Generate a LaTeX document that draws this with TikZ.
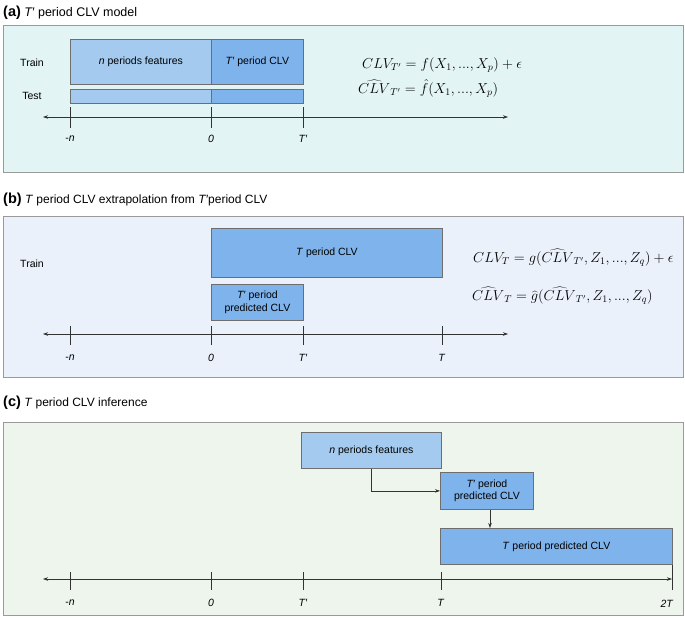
\documentclass[tikz,border=0pt]{standalone}
\usepackage{fontspec}
\setmainfont{Liberation Sans}
\usetikzlibrary{arrows.meta,calc}
\definecolor{bga}{HTML}{E3F4F5}
\definecolor{bgb}{HTML}{EBF1FA}
\definecolor{bgc}{HTML}{EEF5EC}
\definecolor{lblue}{HTML}{A4CBEF}
\definecolor{dblue}{HTML}{7FB3EC}
\definecolor{edge}{HTML}{6E6E6E}
\definecolor{pedge}{HTML}{9A9A9A}
\begin{document}
\begin{tikzpicture}[x=1pt,y=-1pt,
  panel/.style={draw=pedge,line width=0.8pt},
  bx/.style={draw=edge,line width=0.8pt,inner sep=0pt,anchor=north west,align=center,font=\fontsize{10.5}{12.5}\selectfont},
  lab/.style={inner sep=0pt,font=\fontsize{10.5}{12.5}\selectfont},
  ttl/.style={inner sep=0pt,anchor=west,font=\fontsize{12}{14}\selectfont},
  tick/.style={line width=0.6pt,draw=black!80},
  axis/.style={line width=0.6pt,draw=black!80,{Stealth[length=5pt,width=3.5pt]}-{Stealth[length=5pt,width=3.5pt]}},
  arr/.style={line width=0.6pt,draw=black!80,-{Stealth[length=5pt,width=3.5pt]}},
  eq/.style={inner sep=0pt,anchor=base west,font=\fontsize{13.7}{15}\selectfont}]
\useasboundingbox (0,0) rectangle (685,618);
% ---------------- panel (a)
\node[ttl] (ta) at (3,13) {{\fontsize{14.5}{16}\selectfont\textbf{(a)}} {\fontsize{12.5}{14}\selectfont\textit{T′} period CLV model}};
\draw[panel,fill=bga] (3,25) rectangle (683,172);
\node[bx,fill=lblue,minimum width=141pt,minimum height=45pt] (anf) at (70,39) {\textit{n} periods features};
\node[bx,fill=dblue,minimum width=92pt,minimum height=45pt] (aclv) at (211,39) {\textit{T′} period CLV};
\node[bx,fill=lblue,minimum width=141pt,minimum height=14pt] (atl) at (70,89) {};
\node[bx,fill=dblue,minimum width=92pt,minimum height=14pt] (atr) at (211,89) {};
\node[lab] (atrain) at (32,63) {Train};
\node[lab] (atest) at (32,96) {Test};
\coordinate (aL) at (43,117);
\coordinate (aR) at (508,117);
\draw[axis] (aL) -- (aR);
\foreach \x/\n/\t in {70/am/-\textit{n},211/az/\textit{0},303/atp/\textit{T′}}{
  \draw[tick] (\x,107) -- (\x,128);
  \node[lab] (\n) at (\x,139) {\t};
}
\node[eq] (aeq1) at (362,68) {$CLV_{T'} = f(X_1,...,X_p) + \epsilon$};
\node[eq] (aeq2) at (358,93) {$\widehat{CLV}_{T'} = \hat{f}(X_1,...,X_p)$};
% ---------------- panel (b)
\node[ttl] (tb) at (3,200) {{\fontsize{14.5}{16}\selectfont\textbf{(b)}} \textit{T} period CLV extrapolation from \textit{T′}period CLV};
\draw[panel,fill=bgb] (3,216) rectangle (683,377);
\node[bx,fill=dblue,minimum width=231pt,minimum height=49pt] (bclv) at (211,228) {\textit{T} period CLV};
\node[bx,fill=dblue,minimum width=92pt,minimum height=36pt] (bpred) at (211,284) {\textit{T′} period\\predicted CLV};
\node[lab] (btrain) at (32,264) {Train};
\coordinate (bL) at (43,334);
\coordinate (bR) at (508,334);
\draw[axis] (bL) -- (bR);
\foreach \x/\n/\t in {70/bm/-\textit{n},211/bz/\textit{0},303/btp/\textit{T′},442/bt/\textit{T}}{
  \draw[tick] (\x,326) -- (\x,345);
  \node[lab] (\n) at (\x,358) {\t};
}
\node[eq] (beq1) at (473,262) {$CLV_{T} = g(\widehat{CLV}_{T'},Z_1,...,Z_q) + \epsilon$};
\node[eq] (beq2) at (472,300) {$\widehat{CLV}_{T} = \widehat{g}(\widehat{CLV}_{T'},Z_1,...,Z_q)$};
% ---------------- panel (c)
\node[ttl] (tc) at (3,403) {{\fontsize{14.5}{16}\selectfont\textbf{(c)}} \textit{T} period CLV inference};
\draw[panel,fill=bgc] (3,422) rectangle (683,615);
\node[bx,fill=lblue,minimum width=140pt,minimum height=36pt] (cnf) at (301,432) {\textit{n} periods features};
\node[bx,fill=dblue,minimum width=93pt,minimum height=37pt] (cpred) at (440,472) {\textit{T′} period\\predicted CLV};
\node[bx,fill=dblue,minimum width=232pt,minimum height=36pt] (cclv) at (440,528) {\textit{T} period predicted CLV};
\draw[arr] ([xshift=70pt]cnf.south west) |- (cpred.west);
\draw[arr] ([xshift=50pt]cpred.south west) -- ([xshift=50pt]cclv.north west);
\coordinate (cL) at (43,579);
\coordinate (cR) at (672,579);
\draw[axis] (cL) -- (cR);
\foreach \x/\n/\t in {70/cm/-\textit{n},211/cz/\textit{0},303/ctp/\textit{T′},441/ct/\textit{T}}{
  \draw[tick] (\x,572) -- (\x,590);
  \node[lab] (\n) at (\x,603) {\t};
}
\draw[tick] (672,565) -- (672,590);
\node[lab] (c2t) at (667,604) {\textit{2T}};
\end{tikzpicture}
\end{document}
